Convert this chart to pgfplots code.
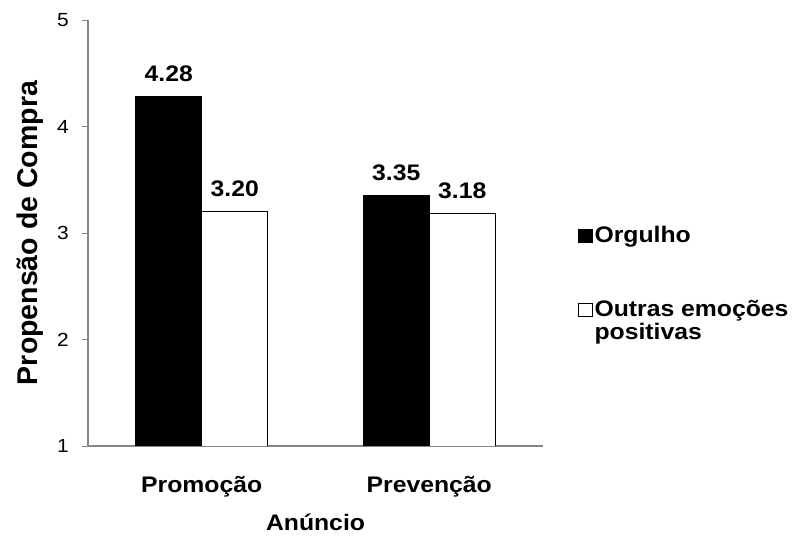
\documentclass[border=0pt]{standalone}
\usepackage{fontspec}
\setmainfont{Liberation Sans}[FakeStretch=1.1]
\newfontfamily\ylabfont{Liberation Sans}
\usepackage{pgfplots}
\pgfplotsset{compat=1.18}
\definecolor{axgray}{HTML}{868686}
\begin{document}
\begin{tikzpicture}
\useasboundingbox (0,0) rectangle (794bp,536bp);
\begin{axis}[
  at={(88bp,90bp)}, anchor=south west,
  scale only axis, width=455bp, height=426bp,
  ybar=0pt, bar width=66bp,
  every axis plot post/.append style={legend image code/.code={\draw[##1, draw=black, line width=0.8bp] (0bp,-7bp) rectangle (14bp,6bp);}},
  xmin=-0.5, xmax=1.5, ymin=1, ymax=5,
  xtick={0,1}, xticklabels={Promoção,Prevenção},
  ytick={1,2,3,4,5},
  axis x line=bottom, axis y line=left,
  axis line style={-, draw=axgray, line width=1.4bp},
  xtick style={draw=none},
  ytick style={draw=axgray, line width=0.9bp},
  tick align=outside, major tick length=6bp,
  /pgf/number format/assume math mode=true,
  yticklabel style={font=\fontsize{19bp}{22bp}\selectfont, anchor=east, inner sep=0pt, xshift=-13bp},
  xticklabel style={font=\fontsize{22.5bp}{26bp}\selectfont\bfseries, anchor=base, yshift=-40bp},
  xlabel={Anúncio},
  xlabel style={at={(axis description cs:0.5,-0.1995)}, anchor=base, inner sep=0pt, font=\fontsize{22.5bp}{26bp}\selectfont\bfseries},
  ylabel={Propensão de Compra},
  ylabel style={at={(axis description cs:-0.1099,0.5)}, anchor=base, rotate=0, font=\ylabfont\fontsize{28.5bp}{32bp}\selectfont\bfseries},
  nodes near coords={\pgfmathprintnumber[fixed,fixed zerofill,precision=2]{\pgfplotspointmeta}},
  every node near coord/.append style={font=\fontsize{22.5bp}{26bp}\selectfont\bfseries, anchor=base, yshift=15bp, text=black},
  legend style={at={(axis description cs:1.077,0.519)}, anchor=north west, draw=none, fill=none,
    font=\fontsize{22.5bp}{22bp}\selectfont\bfseries, inner sep=0pt, row sep=53bp,
    nodes={inner sep=1.5bp}},
  legend cell align=left,
]
\addplot[fill=black, draw=black, line width=0.8bp] coordinates {(0,4.28) (1,3.35)};
\addplot[fill=white, draw=black, line width=0.8bp] coordinates {(0,3.20) (1,3.18)};
\legend{Orgulho,{\begin{tabular}[t]{@{}l@{}}Outras emoções\\positivas\end{tabular}}}
\end{axis}
\end{tikzpicture}
\end{document}
